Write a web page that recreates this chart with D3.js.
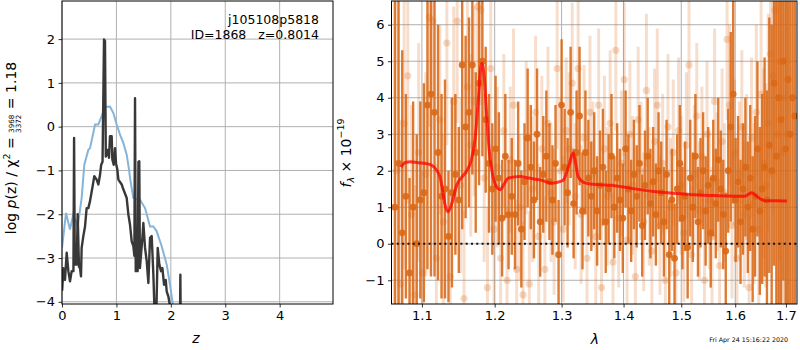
<!DOCTYPE html>
<html><head><meta charset="utf-8">
<script src="https://cdn.jsdelivr.net/npm/d3@7"></script>
<style>body{margin:0;background:#fff} svg{display:block;font-family:"DejaVu Sans",sans-serif}</style>
</head><body><svg id="c" width="800" height="350"></svg>
<script>
// ---------- left panel: log p(z) ----------
const pzZ = [0.000,0.006,0.025,0.055,0.086,0.117,0.147,0.178,0.210,0.222,0.235,0.270,0.288,0.312,0.331,0.349,0.361,0.392,0.423,0.453,0.484,0.515,0.557,0.594,0.637,0.668,0.699,0.720,0.745,0.772,0.790,0.805,0.839,0.864,0.882,0.913,0.925,0.950,0.974,0.993,1.017,1.036,1.097,1.127,1.189,1.219,1.250,1.281,1.311,1.330,1.342,1.355,1.390,1.405,1.420,1.432,1.477,1.495,1.526,1.557,1.587,1.618,1.648,1.679,1.710,1.728,1.759,1.789,1.820,1.845,1.875,1.906,1.924,1.955,1.985,2.010,2.100,2.165,2.175,2.185,2.300,2.500,3.000,4.980];
const pzLog = [-3.75,-3.68,-3.23,-3.50,-2.88,-3.30,-3.53,-3.30,-3.30,-0.26,-3.15,-3.15,-2.00,-3.20,-3.23,-3.42,-2.77,-2.50,-2.28,-1.86,-1.86,-1.70,-1.40,-1.13,-1.21,-1.32,-1.10,-0.87,-0.80,1.99,1.96,-0.68,-0.53,-0.71,-0.22,-0.22,-0.75,-0.87,-0.49,-0.84,-0.98,-1.21,-1.32,-1.43,-1.63,-2.00,-2.24,-2.62,-2.73,-2.95,0.65,-3.30,-3.30,-0.80,-0.79,-3.23,-2.54,-2.20,-2.77,-3.07,-3.57,-2.54,-2.50,-3.38,-4.60,-4.60,-2.77,-3.15,-3.30,-3.23,-3.61,-3.50,-3.76,-3.88,-4.10,-4.80,-5.50,-5.00,-3.38,-5.00,-6.00,-7.00,-9.00,-12.0];
const priorZ = [0.000,0.074,0.147,0.208,0.288,0.361,0.410,0.484,0.515,0.576,0.607,0.668,0.729,0.790,0.882,0.944,1.005,1.066,1.127,1.189,1.232,1.250,1.311,1.434,1.526,1.618,1.679,1.740,1.832,1.924,1.985,2.028,2.080];
const priorLog = [-2.77,-1.97,-2.35,-2.00,-2.28,-1.63,-0.87,-0.53,-0.49,-0.14,0.05,0.05,0.24,0.45,0.46,0.31,0.05,-0.18,-0.37,-0.64,-0.98,-1.17,-1.63,-1.67,-1.86,-2.28,-2.28,-2.39,-2.73,-3.15,-3.61,-3.99,-4.40];
const leftXTicks = [0,1,2,3,4];
const leftYTicks = [-4,-3,-2,-1,0,1,2];

// ---------- right panel: spectrum ----------
const darkStart = 1.065, darkStep = 0.0047;
const darkFlux = [1.0,2.2,0.3,1.3,-0.8,1.0,0.0,1.2,1.4,3.8,
 4.1,3.6,2.5,1.3,1.5,0.2,1.4,1.9,1.2,4.9,
 3.2,3.6,4.9,2.5,4.4,5.0,3.4,2.2,1.5,2.6,
 1.8,0.7,2.4,0.8,1.3,0.8,2.2,0.4,1.7,2.9,
 2.1,1.2,3.0,0.6,1.9,2.4,1.7,1.2,2.2,-0.3,
 3.8,2.1,1.4,3.6,1.1,2.5,3.5,0.9,2.5,1.8,
 1.3,2.0,0.9,1.6,2.1,0.6,1.5,2.4,1.0,1.8,
 1.2,0.7,2.6,1.5,0.9,1.9,1.3,2.2,0.5,1.6,
 2.4,1.1,1.7,0.8,2.0,1.4,0.6,1.9,-0.3,1.2,
 -0.4,1.5,2.2,0.7,1.3,-0.1,1.8,1.0,2.4,0.6,
 1.4,2.0,0.9,1.6,0.3,1.8,1.1,2.3,1.5,0.8,
 -0.2,2.0,3.2,4.1,1.2,1.7,0.6,1.5,2.1,1.0,
 1.8,0.4,1.3,2.6,0.9,1.5,2.1,1.2,2.7,2.0,
 4.4,2.4,4.0,3.4,5.0,2.6,4.5,3.0,4.0,3.5];
const darkErr = [6.0,6.0,5.0,2.8,2.6,2.9,3.0,2.7,3.0,4.5,
 5.0,4.5,3.5,2.8,3.0,1.8,2.6,2.2,2.0,4.5,
 2.5,2.6,3.0,2.2,2.8,2.6,2.0,1.9,1.8,2.0,
 1.8,1.6,1.7,1.5,1.6,1.5,1.7,1.6,1.6,1.9,
 1.7,1.6,1.8,1.5,1.6,1.8,1.6,1.5,1.6,1.5,
 1.8,1.6,1.5,1.8,1.5,1.7,1.9,1.6,1.7,1.6,
 1.5,1.6,1.5,1.5,1.6,1.4,1.5,1.7,1.4,1.5,
 1.4,1.5,1.6,1.5,1.4,1.5,1.4,1.6,1.4,1.5,
 1.6,1.5,1.5,1.4,1.6,1.4,1.5,1.5,1.5,1.4,
 1.5,1.5,1.6,1.4,1.5,1.4,1.6,1.5,1.7,1.5,
 1.5,1.6,1.5,1.6,1.5,1.6,1.5,1.7,1.6,1.5,
 1.6,1.7,2.6,3.0,1.7,1.8,1.7,1.8,1.9,1.8,
 2.0,2.0,2.2,2.4,2.3,2.6,3.0,3.0,3.5,4.0,
 5.0,5.5,6.0,6.0,6.0,6.5,6.5,6.5,7.0,7.0];
const lightStart = 1.0675, lightStep = 0.0047;
const lightFlux = [2.0,-1.1,3.3,4.6,0.8,-1.4,2.5,-0.8,1.9,6.2,
 6.1,-0.4,3.4,0.6,5.5,-0.9,3.9,6.1,1.6,-1.5,
 4.3,2.7,3.9,6.5,6.4,1.8,-1.2,4.8,0.4,2.1,
 -0.4,3.1,-1.0,2.3,3.8,-0.7,1.0,-1.4,2.9,-1.1,
 1.5,3.6,0.2,2.6,-0.7,3.3,1.4,0.6,4.8,2.0,
 0.4,3.1,2.6,4.4,1.3,4.8,0.8,2.9,-0.4,3.6,
 1.9,0.2,3.8,-1.2,2.6,1.3,3.3,-0.5,5.3,0.7,
 2.2,4.5,0.1,3.0,1.6,-0.9,3.4,2.0,0.6,4.2,
 1.3,-0.2,2.8,3.8,0.5,2.2,-1.0,3.2,1.0,2.5,
 -0.8,3.1,1.6,0.3,2.7,4.9,-0.3,1.9,3.5,0.9,
 2.4,-1.0,3.0,1.2,0.2,3.9,1.7,-0.6,2.8,1.4,
 5.6,3.8,0.5,2.5,-0.4,1.9,3.2,0.8,2.1,-1.2,
 2.9,1.1,3.6,0.4,4.1,2.2,1.6,3.3,5.2,4.6,
 6.4,3.0,5.0,2.5,4.0,3.0];
const lightErr = [5.0,4.5,4.0,3.5,3.0,3.0,3.0,2.8,2.8,3.0,
 3.0,2.6,2.6,2.4,2.8,2.4,2.6,2.8,2.4,2.4,
 2.4,2.5,2.6,2.6,2.6,2.3,2.2,2.4,2.2,2.2,
 2.0,2.1,2.0,2.0,2.1,1.9,2.0,2.0,2.1,2.0,
 2.0,2.1,2.0,2.0,2.0,2.1,1.9,2.0,2.2,2.0,
 2.0,2.0,2.1,2.2,2.0,2.2,1.9,2.0,1.9,2.1,
 2.0,1.9,2.1,1.9,2.0,1.9,2.0,1.9,2.2,1.9,
 2.0,2.1,1.9,2.0,1.9,1.9,2.0,1.9,1.9,2.1,
 1.9,1.9,2.0,2.1,1.9,1.9,1.9,2.0,1.9,2.0,
 1.9,2.0,1.9,1.9,2.0,2.1,1.9,1.9,2.0,1.9,
 1.9,1.9,2.0,1.9,1.9,2.0,1.9,1.9,2.0,1.9,
 2.2,2.2,2.0,2.0,2.0,2.0,2.1,2.0,2.0,2.0,
 2.2,2.2,2.4,2.3,2.6,2.6,2.8,3.0,3.4,3.8,
 4.5,5.0,5.5,6.0,6.0,6.0];
const modelLam = [1.073,1.078,1.085,1.095,1.105,1.113,1.120,1.124,1.128,1.131,1.135,1.140,1.147,1.155,1.160,1.167,1.172,1.177,1.180,1.182,1.185,1.188,1.192,1.197,1.203,1.208,1.213,1.220,1.237,1.250,1.267,1.285,1.297,1.303,1.311,1.318,1.322,1.326,1.333,1.339,1.36,1.38,1.394,1.42,1.451,1.48,1.50,1.525,1.54,1.56,1.58,1.606,1.618,1.625,1.632,1.640,1.650,1.658,1.68,1.702];
const modelFlux = [2.10,2.22,2.25,2.22,2.20,2.15,2.00,1.84,1.40,1.05,0.88,1.10,1.62,1.85,1.98,2.30,2.85,4.00,4.80,4.95,4.60,3.70,2.60,1.90,1.55,1.48,1.62,1.80,1.84,1.80,1.75,1.66,1.70,1.75,2.12,2.49,2.20,1.84,1.70,1.66,1.62,1.60,1.57,1.50,1.43,1.39,1.37,1.34,1.33,1.32,1.31,1.30,1.30,1.35,1.40,1.32,1.22,1.18,1.18,1.17];
const rightXTicks = [1.1,1.2,1.3,1.4,1.5,1.6,1.7];
const rightYTicks = [-1,0,1,2,3,4,5,6];

const svg = d3.select('#c');
const ORANGE = 'rgb(217,104,22)';
const TICKFS = 13;

function frame(g, x0, x1, y0, y1, xs, ys, xt, yt, xfmt, yfmt, id) {
  // grid
  const grid = g.append('g');
  grid.selectAll('.gx').data(xt).join('line')
    .attr('x1', d => xs(d)).attr('x2', d => xs(d)).attr('y1', y0).attr('y2', y1)
    .attr('stroke', '#b0b0b0').attr('stroke-width', 1);
  grid.selectAll('.gy').data(yt).join('line')
    .attr('y1', d => ys(d)).attr('y2', d => ys(d)).attr('x1', x0).attr('x2', x1)
    .attr('stroke', '#b0b0b0').attr('stroke-width', 1);
  svg.append('clipPath').attr('id', id).append('rect')
    .attr('x', x0).attr('y', y0).attr('width', x1 - x0).attr('height', y1 - y0);
}
function axes(x0, x1, y0, y1, xs, ys, xt, yt, xfmt, yfmt) {
  const ax = svg.append('g').attr('transform', `translate(0,${y1})`)
    .call(d3.axisBottom(xs).tickValues(xt).tickFormat(xfmt).tickSize(3.5).tickSizeOuter(0).tickPadding(3.5));
  const ay = svg.append('g').attr('transform', `translate(${x0},0)`)
    .call(d3.axisLeft(ys).tickValues(yt).tickFormat(yfmt).tickSize(3.5).tickSizeOuter(0).tickPadding(3.5));
  [ax, ay].forEach(a => {
    a.select('.domain').remove();
    a.selectAll('text').attr('font-size', TICKFS).attr('fill', '#000').attr('font-family', '"DejaVu Sans",sans-serif');
    a.selectAll('line').attr('stroke', '#000').attr('stroke-width', 0.8);
  });
  svg.append('rect').attr('x', x0).attr('y', y0).attr('width', x1 - x0).attr('height', y1 - y0)
    .attr('fill', 'none').attr('stroke', '#000').attr('stroke-width', 1);
}

// ----- left panel -----
const L = {x0: 62, x1: 333, y0: 1, y1: 304};
const lx = d3.scaleLinear().domain([0, 4.98]).range([L.x0, L.x1]);
const ly = d3.scaleLinear().domain([-4.05, 2.87]).range([L.y1, L.y0]);
const gL = svg.append('g');
frame(gL, L.x0, L.x1, L.y0, L.y1, lx, ly, leftXTicks, leftYTicks, null, null, 'clipL');
const dL = gL.append('g').attr('clip-path', 'url(#clipL)');
dL.append('path').datum(priorZ.map((z, i) => [z, priorLog[i]]))
  .attr('d', d3.line().x(d => lx(d[0])).y(d => ly(d[1])))
  .attr('fill', 'none').attr('stroke', '#85b4d8').attr('stroke-width', 2);
dL.append('path').datum(pzZ.map((z, i) => [z, pzLog[i]]))
  .attr('d', d3.line().x(d => lx(d[0])).y(d => ly(d[1])))
  .attr('fill', 'none').attr('stroke', '#383838').attr('stroke-width', 2.4).attr('stroke-linejoin', 'round');
axes(L.x0, L.x1, L.y0, L.y1, lx, ly, leftXTicks, leftYTicks, d3.format('d'), d3.format('d'));

svg.append('text').attr('x', 319).attr('y', 24).attr('text-anchor', 'end').attr('font-size', 12.5)
  .text('j105108p5818');
svg.append('text').attr('x', 319).attr('y', 39).attr('text-anchor', 'end').attr('font-size', 12.5)
  .style('white-space', 'pre').text('ID=1868   z=0.8014');
svg.append('text').attr('x', 196).attr('y', 343).attr('text-anchor', 'middle').attr('font-size', 14)
  .attr('font-style', 'italic').text('z');

// left y label with fraction
(function () {
  const g = svg.append('g');
  const FS = 14, SF = 7.2;
  let pos = 0;
  const add = (txt, opts = {}) => {
    const t = g.append('text').attr('x', pos).attr('y', opts.dy || 0)
      .attr('font-size', opts.fs || FS).style('white-space', 'pre').text(txt);
    if (opts.italic) t.attr('font-style', 'italic');
    const w = t.node().getComputedTextLength();
    if (!opts.noAdvance) pos += w;
    return w;
  };
  add('log ');
  add('p', {italic: true});
  add('(z) / χ');
  add('2', {fs: 9.5, dy: -5.5});
  add(' = ');
  const p0 = pos;
  const wn = add('3968', {fs: SF, dy: -1.2, noAdvance: true});
  pos = p0;
  const t = g.append('text').attr('x', p0).attr('y', 5.6).attr('font-size', SF).text('3372');
  pos = p0 + Math.max(wn, t.node().getComputedTextLength()) + 1;
  add(' = 1.18');
  g.attr('transform', `translate(15.5,${148 + pos / 2}) rotate(-90)`);
})();

// ----- right panel -----
const R = {x0: 391.5, x1: 797, y0: 1, y1: 304};
const rx = d3.scaleLog().domain([1.0607, 1.7227]).range([R.x0, R.x1]);
const ry = d3.scaleLinear().domain([-1.65, 6.65]).range([R.y1, R.y0]);
const gR = svg.append('g');
frame(gR, R.x0, R.x1, R.y0, R.y1, rx, ry, rightXTicks, rightYTicks, null, null, 'clipR');
const dR = gR.append('g').attr('clip-path', 'url(#clipR)');

const lightPts = lightFlux.map((f, i) => ({lam: lightStart + i * lightStep, f, e: lightErr[i]}));
const darkPts = darkFlux.map((f, i) => ({lam: darkStart + i * darkStep, f, e: darkErr[i]}));

dR.append('g').selectAll('line').data(lightPts).join('line')
  .attr('x1', d => rx(d.lam)).attr('x2', d => rx(d.lam))
  .attr('y1', d => ry(d.f - d.e)).attr('y2', d => ry(d.f + d.e))
  .attr('stroke', ORANGE).attr('stroke-opacity', 0.22).attr('stroke-width', 3);
dR.append('g').selectAll('circle').data(lightPts).join('circle')
  .attr('cx', d => rx(d.lam)).attr('cy', d => ry(d.f)).attr('r', 3.6)
  .attr('fill', ORANGE).attr('fill-opacity', 0.25);
dR.append('g').selectAll('line').data(darkPts).join('line')
  .attr('x1', d => rx(d.lam)).attr('x2', d => rx(d.lam))
  .attr('y1', d => ry(d.f - d.e)).attr('y2', d => ry(d.f + d.e))
  .attr('stroke', ORANGE).attr('stroke-opacity', 0.88).attr('stroke-width', 2.4);
dR.append('g').selectAll('circle').data(darkPts).join('circle')
  .attr('cx', d => rx(d.lam)).attr('cy', d => ry(d.f)).attr('r', 3.4)
  .attr('fill', ORANGE).attr('fill-opacity', 0.9);
dR.append('path').datum(modelLam.map((l, i) => [l, modelFlux[i]]))
  .attr('d', d3.line().x(d => rx(d[0])).y(d => ry(d[1])).curve(d3.curveMonotoneX))
  .attr('fill', 'none').attr('stroke', 'red').attr('stroke-opacity', 0.75).attr('stroke-width', 3);
dR.append('line').attr('x1', R.x0).attr('x2', R.x1).attr('y1', ry(0)).attr('y2', ry(0))
  .attr('stroke', '#111').attr('stroke-width', 2).attr('stroke-dasharray', '2,3.3');
axes(R.x0, R.x1, R.y0, R.y1, rx, ry, rightXTicks, rightYTicks, d3.format('.1f'), d3.format('d'));

svg.append('text').attr('x', 595).attr('y', 344).attr('text-anchor', 'middle').attr('font-size', 14)
  .attr('font-style', 'italic').text('λ');

// right y label
(function () {
  const g = svg.append('g');
  let pos = 0;
  const add = (txt, fs, dy, italic) => {
    const t = g.append('text').attr('x', pos).attr('y', dy).attr('font-size', fs)
      .style('white-space', 'pre').text(txt);
    if (italic) t.attr('font-style', 'italic');
    pos += t.node().getComputedTextLength();
  };
  add('f', 14, 0, true);
  add('λ', 9.5, 3, true);
  add(' × 10', 14, 0, false);
  add('−19', 9.5, -6.5, false);
  g.attr('transform', `translate(350.5,${153 + pos / 2}) rotate(-90)`);
})();

svg.append('text').attr('x', 788).attr('y', 342).attr('text-anchor', 'end').attr('font-size', 6.3)
  .text('Fri Apr 24 15:16:22 2020');
</script></body></html>
